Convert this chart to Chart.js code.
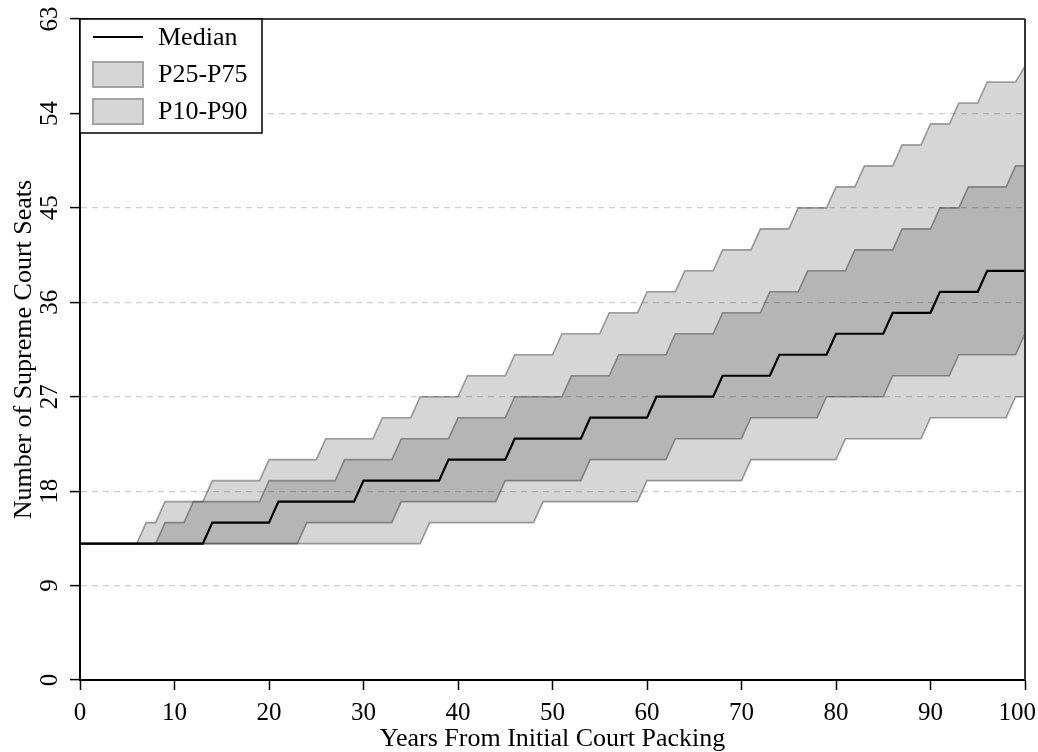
<!DOCTYPE html>
<html>
<head>
<meta charset="utf-8">
<script src="https://cdn.jsdelivr.net/npm/chart.js"></script>
<style>
  html, body { margin: 0; padding: 0; background: #fff; }
  #wrap { width: 1038px; height: 752px; }
</style>
</head>
<body>
<div id="wrap"><canvas id="seatsChart" width="1038" height="752"></canvas></div>
<script>
// Years 0..100 after the initial packing
const years = Array.from({ length: 101 }, (_, i) => i);

// Seats per year (rows of 10 years)
const median = [
  13, 13, 13, 13, 13, 13, 13, 13, 13, 13,
  13, 13, 13, 13, 15, 15, 15, 15, 15, 15,
  15, 17, 17, 17, 17, 17, 17, 17, 17, 17,
  19, 19, 19, 19, 19, 19, 19, 19, 19, 21,
  21, 21, 21, 21, 21, 21, 23, 23, 23, 23,
  23, 23, 23, 23, 25, 25, 25, 25, 25, 25,
  25, 27, 27, 27, 27, 27, 27, 27, 29, 29,
  29, 29, 29, 29, 31, 31, 31, 31, 31, 31,
  33, 33, 33, 33, 33, 33, 35, 35, 35, 35,
  35, 37, 37, 37, 37, 37, 39, 39, 39, 39,
  39
];
const p10 = [
  13, 13, 13, 13, 13, 13, 13, 13, 13, 13,
  13, 13, 13, 13, 13, 13, 13, 13, 13, 13,
  13, 13, 13, 13, 13, 13, 13, 13, 13, 13,
  13, 13, 13, 13, 13, 13, 13, 15, 15, 15,
  15, 15, 15, 15, 15, 15, 15, 15, 15, 17,
  17, 17, 17, 17, 17, 17, 17, 17, 17, 17,
  19, 19, 19, 19, 19, 19, 19, 19, 19, 19,
  19, 21, 21, 21, 21, 21, 21, 21, 21, 21,
  21, 23, 23, 23, 23, 23, 23, 23, 23, 23,
  25, 25, 25, 25, 25, 25, 25, 25, 25, 27,
  27
];
const p25 = [
  13, 13, 13, 13, 13, 13, 13, 13, 13, 13,
  13, 13, 13, 13, 13, 13, 13, 13, 13, 13,
  13, 13, 13, 13, 15, 15, 15, 15, 15, 15,
  15, 15, 15, 15, 17, 17, 17, 17, 17, 17,
  17, 17, 17, 17, 17, 19, 19, 19, 19, 19,
  19, 19, 19, 19, 21, 21, 21, 21, 21, 21,
  21, 21, 21, 23, 23, 23, 23, 23, 23, 23,
  23, 25, 25, 25, 25, 25, 25, 25, 25, 27,
  27, 27, 27, 27, 27, 27, 29, 29, 29, 29,
  29, 29, 29, 31, 31, 31, 31, 31, 31, 31,
  33
];
const p75 = [
  13, 13, 13, 13, 13, 13, 13, 13, 13, 15,
  15, 15, 17, 17, 17, 17, 17, 17, 17, 17,
  19, 19, 19, 19, 19, 19, 19, 19, 21, 21,
  21, 21, 21, 21, 23, 23, 23, 23, 23, 23,
  25, 25, 25, 25, 25, 25, 27, 27, 27, 27,
  27, 27, 29, 29, 29, 29, 29, 31, 31, 31,
  31, 31, 31, 33, 33, 33, 33, 33, 35, 35,
  35, 35, 35, 37, 37, 37, 37, 39, 39, 39,
  39, 39, 41, 41, 41, 41, 41, 43, 43, 43,
  43, 45, 45, 45, 47, 47, 47, 47, 47, 49,
  49
];
const p90 = [
  13, 13, 13, 13, 13, 13, 13, 15, 15, 17,
  17, 17, 17, 17, 19, 19, 19, 19, 19, 19,
  21, 21, 21, 21, 21, 21, 23, 23, 23, 23,
  23, 23, 25, 25, 25, 25, 27, 27, 27, 27,
  27, 29, 29, 29, 29, 29, 31, 31, 31, 31,
  31, 33, 33, 33, 33, 33, 35, 35, 35, 35,
  37, 37, 37, 37, 39, 39, 39, 39, 41, 41,
  41, 41, 43, 43, 43, 43, 45, 45, 45, 45,
  47, 47, 47, 49, 49, 49, 49, 51, 51, 51,
  53, 53, 53, 55, 55, 55, 57, 57, 57, 57,
  58.5
];

const xTicks = [0, 10, 20, 30, 40, 50, 60, 70, 80, 90, 100];
const yTicks = [0, 9, 18, 27, 36, 45, 54, 63];

const serif = "'Liberation Serif', 'DejaVu Serif', 'Times New Roman', serif";
const tickFont = { family: serif, size: 25 };
const bandFill = 'rgba(45, 45, 45, 0.195)';
const bandEdge = 'rgba(45, 45, 45, 0.44)';
const lastX = xTicks[xTicks.length - 1];

// top + right sides of the plot box, and the last x label pulled inside the canvas
const framePlugin = {
  id: 'frame',
  afterDraw(chart) {
    const { ctx, chartArea: a } = chart;
    ctx.save();
    ctx.strokeStyle = '#000';
    ctx.lineWidth = 1.5;
    ctx.beginPath();
    ctx.moveTo(a.left, a.top);
    ctx.lineTo(a.right, a.top);
    ctx.stroke();
    ctx.lineWidth = 2;
    ctx.strokeStyle = '#333';
    ctx.beginPath();
    ctx.moveTo(a.right, a.top);
    ctx.lineTo(a.right, a.bottom);
    ctx.stroke();

    // same spot the scale uses: tick length + padding + half a line
    const xs = chart.scales.x;
    ctx.fillStyle = '#000';
    ctx.font = tickFont.size + 'px ' + serif;
    ctx.textAlign = 'right';
    ctx.textBaseline = 'middle';
    ctx.fillText(String(lastX), xs.getPixelForValue(lastX) + 11, xs.top + 10 + 8 + tickFont.size * 0.6);
    ctx.restore();
  }
};

// boxed legend sitting in the top-left corner of the plot
const boxLegend = {
  id: 'boxLegend',
  afterDraw(chart) {
    const { ctx, chartArea: a } = chart;
    const x0 = a.left, y0 = a.top;
    ctx.save();
    ctx.fillStyle = '#fff';
    ctx.fillRect(x0, y0, 182, 114);
    ctx.strokeStyle = '#000';
    ctx.lineWidth = 1.5;
    ctx.strokeRect(x0, y0, 182, 114);

    ctx.strokeStyle = '#000';
    ctx.lineWidth = 2;
    ctx.beginPath();
    ctx.moveTo(x0 + 13, y0 + 18);
    ctx.lineTo(x0 + 63, y0 + 18);
    ctx.stroke();

    [y0 + 43, y0 + 80].forEach(y => {
      ctx.fillStyle = '#d6d6d6';
      ctx.fillRect(x0 + 13, y, 50, 25);
      ctx.strokeStyle = '#a3a3a3';
      ctx.lineWidth = 2;
      ctx.strokeRect(x0 + 13, y, 50, 25);
    });

    ctx.fillStyle = '#000';
    ctx.font = '26px ' + serif;
    ctx.textBaseline = 'middle';
    ctx.textAlign = 'left';
    ctx.fillText('Median', x0 + 78, y0 + 19);
    ctx.fillText('P25-P75', x0 + 78, y0 + 56);
    ctx.fillText('P10-P90', x0 + 78, y0 + 93);
    ctx.restore();
  }
};

function band(label, data, fill) {
  return {
    label,
    data,
    borderColor: bandEdge,
    borderWidth: 1.6,
    backgroundColor: bandFill,
    pointRadius: 0,
    tension: 0,
    fill
  };
}

const ctx = document.getElementById('seatsChart').getContext('2d');
const chart = new Chart(ctx, {
  type: 'line',
  data: {
    labels: years,
    datasets: [
      {
        label: 'Median',
        data: median,
        borderColor: '#000',
        borderWidth: 2.2,
        pointRadius: 0,
        tension: 0,
        fill: false
      },
      band('P75', p75, '+1'),
      band('P25', p25, false),
      band('P90', p90, '+1'),
      band('P10', p10, false)
    ]
  },
  options: {
    responsive: false,
    animation: false,
    devicePixelRatio: 1,
    layout: { padding: { left: 0, right: 13, top: 19, bottom: 0 } },
    plugins: {
      legend: { display: false },
      tooltip: { enabled: false }
    },
    scales: {
      x: {
        type: 'linear',
        min: 0,
        max: 100,
        afterBuildTicks: s => { s.ticks = xTicks.map(v => ({ value: v })); },
        afterFit: s => { s.height = 72; s.paddingLeft = 0; s.paddingRight = 0; },
        grid: { drawOnChartArea: false, drawTicks: true, tickLength: 10, tickColor: '#000', tickWidth: 1.5 },
        border: { color: '#000', width: 2 },
        ticks: {
          color: '#000',
          padding: 8,
          font: tickFont,
          callback: v => (v === lastX ? '' : String(v))
        },
        title: {
          display: true,
          text: 'Years From Initial Court Packing',
          color: '#000',
          font: { family: serif, size: 26, lineHeight: 1 },
          padding: { top: 0, bottom: 0 }
        }
      },
      y: {
        type: 'linear',
        min: 0,
        max: 63,
        afterBuildTicks: s => { s.ticks = yTicks.map(v => ({ value: v })); },
        afterFit: s => { s.width = 80; s.paddingTop = 0; s.paddingBottom = 0; },
        grid: {
          color: c => (c.tick && (c.tick.value === 0 || c.tick.value === 63)) ? 'rgba(0,0,0,0)' : '#cfcfcf',
          lineWidth: 1.2,
          drawTicks: true,
          tickLength: 10,
          tickColor: '#000',
          tickWidth: 1.5,
          tickBorderDash: []
        },
        border: { color: '#000', width: 2, dash: [6, 5] },
        ticks: {
          color: '#000',
          minRotation: 90,
          maxRotation: 90,
          crossAlign: 'center',
          padding: 7,
          font: tickFont
        },
        title: {
          display: true,
          text: 'Number of Supreme Court Seats',
          color: '#000',
          font: { family: serif, size: 26, lineHeight: 1 },
          padding: { top: 11, bottom: 0 }
        }
      }
    }
  },
  plugins: [framePlugin, boxLegend]
});
</script>
</body>
</html>
